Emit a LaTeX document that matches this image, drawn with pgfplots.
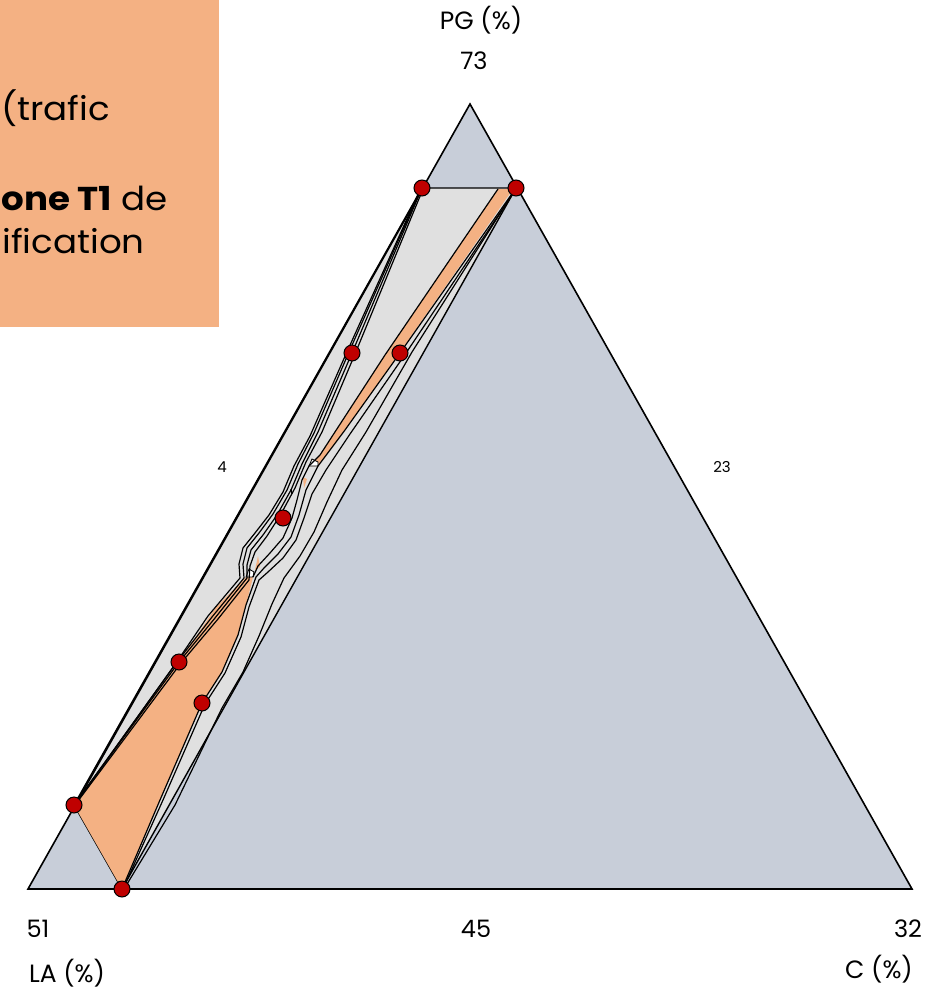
\documentclass[border=0pt]{standalone}
\usepackage{pgfplots}
\pgfplotsset{compat=1.18}
\usepackage{fontspec}
\setmainfont{Poppins}
\newfontfamily\notefont[FakeStretch=1.08]{Poppins}

\definecolor{basefill}{HTML}{C8CED9}
\definecolor{zonegray}{HTML}{E0E0E0}
\definecolor{zoneorange}{HTML}{F4B183}
\definecolor{dotred}{HTML}{BF0000}

\begin{document}
\begin{tikzpicture}
\begin{axis}[
  scale only axis, width=462.5pt, height=495pt,
  xmin=0, xmax=925, ymin=0, ymax=990, y dir=reverse,
  hide axis, clip=false,
  contour/.style={draw=black, line width=0.6pt, no marks},
]
\coordinate (SW) at (axis cs:0,990);
\coordinate (NE) at (axis cs:925,0);

% ternary frame
\addplot[fill=basefill, draw=none] coordinates {(28,889) (470,104) (912,889)} -- cycle;

% outer zone (light gray)
\addplot[fill=zonegray, draw=black, line width=0.7pt] coordinates {(422,188) (516,188) (122,889) (74,805)} -- cycle;

% upper orange strip
\addplot[fill=zoneorange, draw=none] coordinates {(498,189) (513,189) (400,352) (345,430) (318,466) (309,466) (320,455) (385,355)} -- cycle;
\addplot[fill=zoneorange, draw=none] coordinates {(303,477) (307,479) (304,488)} -- cycle;

% lower orange zone
\addplot[fill=zoneorange, draw=none] coordinates {(74,805) (179,662) (216,607) (246,577) (253,577) (246,605) (238,635) (222,672) (202,703) (160,800) (122,889)} -- cycle;
\addplot[fill=zoneorange, draw=none] coordinates {(255,570) (258,556) (260,567)} -- cycle;
\addplot[fill=white, draw=black, line width=0.4pt] coordinates {(246,577) (249,569) (254,572) (253,577)} -- cycle;
\addplot[fill=white, draw=black, line width=0.4pt] coordinates {(309,466) (312,459) (318,462) (318,466)} -- cycle;

% contour lines, left bundle
\addplot[contour] coordinates {(422,188) (352,353) (318,432) (302,464) (291,490) (277,515) (263,535) (251,550) (247,565) (247,578) (215,618) (179,662) (74,805)};
\addplot[contour] coordinates {(421,189) (349,352) (314,433) (298,464) (287,490) (273,514) (259,533) (247,548) (243,564) (244,578) (212,617) (177,662) (74,805)};
\addplot[contour] coordinates {(423,189) (355,354) (322,432) (306,462) (295,488) (281,514) (267,536) (255,552) (250,566) (249,580) (218,619) (181,663) (75,805)};
\addplot[contour] coordinates {(420,190) (346,354) (310,436) (294,466) (283,492) (269,515) (255,533) (243,548) (239,564) (240,578) (208,616) (176,663) (74,806)};

% contour lines, right bundle
\addplot[contour] coordinates {(498,189) (385,355) (320,455) (309,466) (302,480) (297,500) (292,518) (283,538) (270,553) (258,566) (253,577)};
\addplot[contour] coordinates {(516,188) (400,353) (345,430) (318,466) (306,490) (299,515) (291,537) (278,554) (264,568) (256,577) (246,605) (238,635) (222,672) (202,703) (160,800) (122,889)};
\addplot[contour] coordinates {(516,189) (404,356) (350,434) (326,470) (312,494) (304,518) (296,540) (283,558) (268,572) (259,580) (249,607) (241,637) (225,673) (205,704) (163,800) (123,889)};
\addplot[contour] coordinates {(515,190) (412,352) (366,432) (342,470) (327,502) (314,532) (300,556) (284,578) (272,604) (259,636) (243,672) (222,708) (175,805) (124,889)};
\addplot[contour] coordinates {(291,489) (292,494)};

% frame outline
\addplot[draw=black, line width=0.8pt, no marks] coordinates {(28,889) (470,104) (912,889)} -- cycle;

% measured samples
\addplot[only marks, mark=*, mark size=4pt, mark options={fill=dotred, draw=black, line width=0.5pt}]
  coordinates {(422,188) (516,188) (352,353) (400,353) (283,518) (179,662) (202,703) (74,805) (122,889)};

% vertex and side labels
\node[font=\fontsize{12.5}{14}\selectfont] at (axis cs:481,20) {PG (\%)};
\node[font=\fontsize{12}{14}\selectfont] at (axis cs:474,61) {73};
\node[font=\fontsize{7.5}{9}\selectfont] at (axis cs:222,467) {4};
\node[font=\fontsize{7.5}{9}\selectfont] at (axis cs:722,467) {23};
\node[font=\fontsize{12}{14}\selectfont] at (axis cs:38,929) {51};
\node[font=\fontsize{12}{14}\selectfont] at (axis cs:476,929) {45};
\node[font=\fontsize{12}{14}\selectfont] at (axis cs:908,929) {32};
\node[font=\fontsize{12.5}{14}\selectfont] at (axis cs:67,973) {LA (\%)};
\node[font=\fontsize{12.5}{14}\selectfont] at (axis cs:879,969) {C (\%)};

% note box
\fill[zoneorange] (axis cs:0,0) rectangle (axis cs:219,327);
\node[anchor=base west, inner sep=0pt, font=\notefont\fontsize{16.5}{19}\selectfont] at (axis cs:1,120) {(trafic};
\node[anchor=base west, inner sep=0pt, font=\notefont\fontsize{16.5}{19}\selectfont] at (axis cs:1,210) {\textbf{one T1} de};
\node[anchor=base west, inner sep=0pt, font=\notefont\fontsize{16.5}{19}\selectfont] at (axis cs:2,253) {ification};
\end{axis}
\pgfresetboundingbox
\path[use as bounding box] (SW) rectangle (NE);
\end{tikzpicture}
\end{document}
